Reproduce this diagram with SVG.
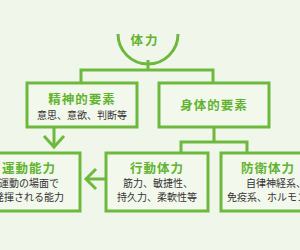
<svg xmlns="http://www.w3.org/2000/svg" width="300" height="250" viewBox="0 0 300 250">
<style>
.ln{fill:none;stroke:#6cb93d;stroke-width:3}
.bx{fill:#f3f8ed;stroke:#6cb93d;stroke-width:3}
.h{font-family:"Noto Sans CJK JP","Noto Sans CJK SC",sans-serif;font-weight:bold;font-size:12.5px;fill:#62b330;text-anchor:middle;letter-spacing:1px}
.t{font-family:"Noto Sans CJK JP","Noto Sans CJK SC",sans-serif;font-size:10px;fill:#333;text-anchor:middle}
</style>
<rect width="300" height="250" fill="#f1f6ea"/>
<g id="connectors">
<path class="ln" d="M148,60 V70"/>
<path class="ln" d="M81,83 V70 H213 V83"/>
<path class="ln" d="M54,127 V146"/>
<path class="ln" d="M44,136 L54,147 L64,136"/>
<path class="ln" d="M214,127 V142"/>
<path class="ln" d="M181,153 V142 H247 V153"/>
<path class="ln" d="M106,179 H87"/>
<path class="ln" d="M96,169 L86,179 L96,189"/>
</g>
<g id="tairyoku">
<path class="ln" d="M118,34 A30,30 0 0 0 178,34"/>
<text class="h" x="145" y="45" style="letter-spacing:2px">体力</text>
</g>
<g id="seishin">
<rect class="bx" x="27" y="83" width="110" height="44"/>
<text class="h" x="82" y="104">精神的要素</text>
<text class="t" x="82" y="119">意思、意欲、判断等</text>
</g>
<g id="shintai">
<rect class="bx" x="159" y="83" width="110" height="44"/>
<text class="h" x="214" y="110">身体的要素</text>
</g>
<g id="undo">
<rect class="bx" x="-30" y="153" width="110" height="58"/>
<text class="h" x="29" y="173">運動能力</text>
<text class="t" x="29" y="187">運動の場面で</text>
<text class="t" x="29" y="201">発揮される能力</text>
</g>
<g id="kodo">
<rect class="bx" x="106" y="153" width="102" height="58"/>
<text class="h" x="157" y="173">行動体力</text>
<text class="t" x="158" y="187">筋力、敏捷性、</text>
<text class="t" x="157" y="201">持久力、柔軟性等</text>
</g>
<g id="boei">
<rect class="bx" x="221" y="153" width="110" height="58"/>
<text class="h" x="268" y="173">防衛体力</text>
<text class="t" x="246" y="187" style="text-anchor:start">自律神経系、</text>
<text class="t" x="227" y="201" style="text-anchor:start">免疫系、ホルモン</text>
</g>
</svg>
